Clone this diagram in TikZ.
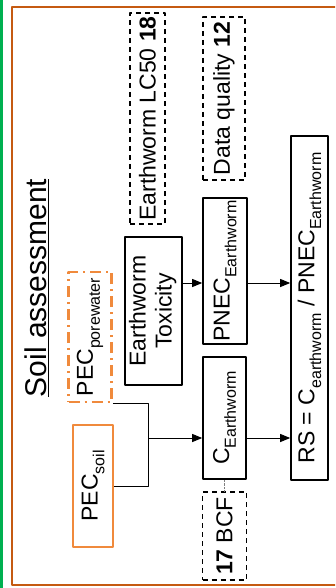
\documentclass[tikz,border=0pt]{standalone}
\usepackage{fontspec}
\setmainfont{Liberation Sans}
\usetikzlibrary{arrows.meta}
\definecolor{frameorange}{HTML}{C55A11}
\definecolor{pecorange}{HTML}{F08A3C}
\definecolor{sidegreen}{HTML}{00B050}
\newcommand{\lowtxt}[1]{\raisebox{-0.3em}{\fontsize{16}{16}\selectfont #1}}
\begin{document}
\begin{tikzpicture}[x=1pt,y=-1pt,>={Triangle[length=10pt,width=8pt]},line join=round,
		font=\fontsize{23}{26}\selectfont,
		box/.style n args={2}{draw,line width=1.6pt,inner sep=0pt,minimum width=#1,minimum height=#2},
		refbox/.style n args={2}{box={#1}{#2},line width=1.3pt,dash pattern=on 5pt off 4pt},
		pecbox/.style n args={2}{box={#1}{#2},draw=pecorange,line width=2.2pt},
		wire/.style={line width=0.9pt}]
	\useasboundingbox (0,0) rectangle (335,588);
	\clip (0,0) rectangle (335,588);
	\draw[sidegreen,line width=3pt] (1.5,-5) -- (1.5,600);
	\draw[frameorange,line width=2.2pt] (12,7) rectangle (360,585);
	\node (title) at (37,288) {\rotatebox{90}{\fontsize{30}{34}\selectfont\underline{Soil assessment}}};
	% inputs
	\node[pecbox={40}{122}] (soil) at (93,486) {\rotatebox{90}{PEC\lowtxt{soil}}};
	\node[pecbox={43}{130},dash pattern=on 11pt off 5pt on 2pt off 5pt,line width=2.5pt] (pore) at (90,337) {\rotatebox{90}{PEC\lowtxt{porewater}}};
	\node[box={57}{148}] (tox) at (153.5,311) {\rotatebox{90}{\begin{tabular}{@{}c@{}}Earthworm\\Toxicity\end{tabular}}};
	\node[refbox={35}{211}] (lc50) at (147.5,118.5) {\rotatebox{90}{Earthworm LC50 \textbf{18}}};
	% derived values
	\node[box={44}{146}] (pnec) at (225,271) {\rotatebox{90}{PNEC\lowtxt{Earthworm}}};
	\node[refbox={42}{163}] (dq) at (224,98.5) {\rotatebox{90}{Data quality \textbf{12}}};
	\node[box={43}{122}] (cew) at (224.5,418) {\rotatebox{90}{C\lowtxt{Earthworm}}};
	\node[refbox={44}{88}] (bcf) at (224.5,536) {\rotatebox{90}{\textbf{17} BCF}};
	\node[box={37}{344}] (rs) at (309.5,308) {\rotatebox{90}{RS = C\lowtxt{earthworm} / PNEC\lowtxt{Earthworm}}};
	% connectors
	\coordinate (jn) at (148,438);
	\coordinate (tx) at (0,283);
	\draw[wire] (soil.east) -| (jn);
	\draw[wire] (pore.south east) -| (jn);
	\draw[wire,->] (jn) -- (jn -| cew.west);
	\draw[wire,->] (jn -| cew.east) -- (jn -| rs.west);
	\draw[wire,->] (tx -| tox.east) -- (tx -| pnec.west);
	\draw[wire,->] (tx -| pnec.east) -- (tx -| rs.west);
	\draw[gray,densely dotted] (bcf.north) -- (cew.south);
\end{tikzpicture}
\end{document}
